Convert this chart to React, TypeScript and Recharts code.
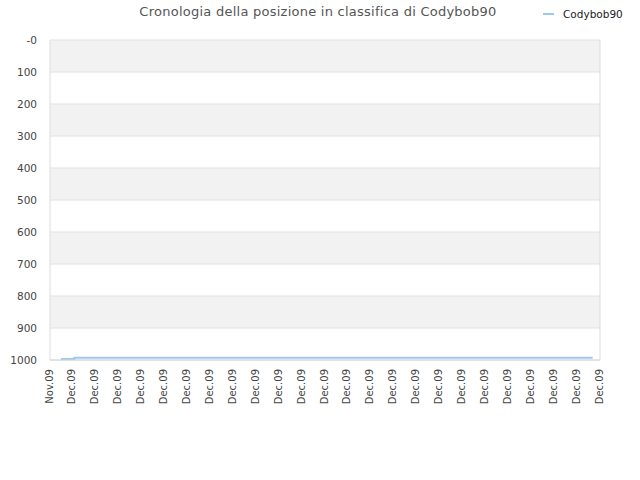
import { CartesianGrid, Line, LineChart, ReferenceLine, XAxis, YAxis } from "recharts";

const seriesName = "Codybob90";
const title = "Cronologia della posizione in classifica di Codybob90";

// x position (in months-ticks units) and rank
const xPositions = [0.48, 1.06, 23.68];
const ranks = [997, 993, 993];

const xTickLabels = [
  "Nov.09", "Dec.09", "Dec.09", "Dec.09", "Dec.09", "Dec.09", "Dec.09", "Dec.09", "Dec.09",
  "Dec.09", "Dec.09", "Dec.09", "Dec.09", "Dec.09", "Dec.09", "Dec.09", "Dec.09", "Dec.09",
  "Dec.09", "Dec.09", "Dec.09", "Dec.09", "Dec.09", "Dec.09", "Dec.09"
];
const yTicks = [0, 100, 200, 300, 400, 500, 600, 700, 800, 900, 1000];

const data = xPositions.map((x, i) => ({ x, rank: ranks[i] }));
const xTicks = xTickLabels.map((_, i) => i);

const font = "'DejaVu Sans', Verdana, sans-serif";
const lineColor = "#9cc8f2";

function XTick(props: any) {
  const { x, y, payload } = props;
  return (
    <g transform={`translate(${x},${y})`}>
      <text transform="rotate(-90)" x={-7} y={2.5} textAnchor="end" fontSize={10} fill="#444" fontFamily={font}>
        {xTickLabels[payload.value]}
      </text>
    </g>
  );
}

export default function App() {
  return (
    <div style={{ position: "absolute", left: 0, top: 0, width: 640, height: 480, background: "#fff", fontFamily: font }}>
      <div
        style={{
          position: "absolute",
          left: 0,
          width: 636,
          top: 4,
          textAlign: "center",
          fontSize: 13,
          letterSpacing: 0.25,
          color: "#555"
        }}
      >
        {title}
      </div>
      <div style={{ position: "absolute", left: 543, top: 8, display: "flex", alignItems: "center", fontSize: 10.5, color: "#222" }}>
        <span style={{ display: "inline-block", width: 11, height: 2, background: lineColor, marginRight: 9 }} />
        {seriesName}
      </div>
      <LineChart width={640} height={480} data={data} margin={{ top: 40, right: 40, bottom: 60, left: 0 }}>
        <CartesianGrid vertical={false} stroke="#e2e2e2" horizontalFill={["#f2f2f2", "#ffffff"]} fillOpacity={1} />
        <XAxis
          dataKey="x"
          type="number"
          domain={[0, 24]}
          ticks={xTicks}
          interval={0}
          tick={<XTick />}
          tickLine={false}
          axisLine={{ stroke: "#d4d4d4" }}
          height={60}
          tickSize={0}
        />
        <YAxis
          type="number"
          domain={[0, 1000]}
          reversed
          ticks={yTicks}
          interval={0}
          width={50}
          tickLine={false}
          tickSize={11}
          axisLine={{ stroke: "#dddddd" }}
          tickFormatter={(v: number) => (v === 0 ? "-0" : String(v))}
          tick={{ fontSize: 10.5, fill: "#444", fontFamily: font }}
        />
        <ReferenceLine x={24} stroke="#dddddd" />
        <Line
          type="stepAfter"
          dataKey="rank"
          stroke={lineColor}
          strokeWidth={2}
          dot={false}
          isAnimationActive={false}
          name={seriesName}
        />
      </LineChart>
    </div>
  );
}
